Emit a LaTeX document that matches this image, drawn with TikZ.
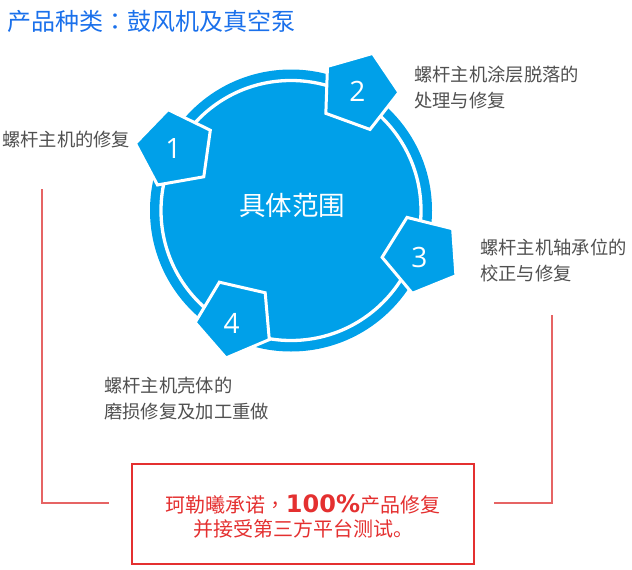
\documentclass[tikz,border=0pt]{standalone}
\usepackage{fontspec}
\setmainfont{Noto Sans CJK SC}
\newfontfamily\tcfont{Noto Sans CJK TC}
\newfontfamily\numfont{Open Sans}
\newfontfamily\boldnum{DejaVu Sans}
\usetikzlibrary{shapes.geometric}
\definecolor{cblue}{RGB}{0,160,233}
\definecolor{tblue}{RGB}{26,112,235}
\definecolor{tgray}{RGB}{80,80,80}
\definecolor{bred}{RGB}{228,48,48}
\definecolor{lred}{RGB}{230,100,100}
\begin{document}
\begin{tikzpicture}[x=1pt,y=-1pt,
  pent/.style={regular polygon, regular polygon sides=5, minimum size=80pt, inner sep=0pt, outer sep=0pt, fill=cblue, draw=white, line width=3pt},
  num/.style={text=white, inner sep=0pt, font=\numfont\fontsize{28}{28}\selectfont},
  desc/.style={text=tgray, font=\fontsize{18.3}{26}\selectfont, align=left, anchor=west, inner sep=0pt},
  link/.style={draw=lred, line width=1.6pt}]
\useasboundingbox (0,0) rectangle (632,570);
% title
\node[anchor=west, inner sep=0pt, text=tblue, font=\fontsize{24}{24}\selectfont] (title) at (7,21) {产品种类{\tcfont ：}鼓风机及真空泵};
% central circle
\node[circle, fill=cblue, minimum size=282pt, inner sep=0pt] (disc) at (291,210.5) {};
\node[circle, draw=white, line width=3.3pt, minimum size=260pt, inner sep=0pt] (ring) at (291,210.5) {};
\node[text=white, inner sep=0pt, font=\fontsize{26.5}{26.5}\selectfont] (center) at (292,205) {具体范围};
% pentagons
\node[pent, rotate=10] (p1) at (175,149) {};
\node[pent, rotate=-20] (p2) at (359,91) {};
\node[pent, rotate=22] (p3) at (422,254.5) {};
\node[pent, rotate=23] (p4) at (235,319) {};
\node[num] (n1) at (173.3,148.3) {1};
\node[num] (n2) at (357.3,91.7) {2};
\node[num] (n3) at (419.3,257.3) {3};
\node[num] (n4) at (231.7,323.3) {4};
% descriptions
\node[desc] (t1) at (2,140) {螺杆主机的修复};
\node[desc] (t2) at (414,87.5) {螺杆主机涂层脱落的\\处理与修复};
\node[desc] (t3) at (480,260) {螺杆主机轴承位的\\校正与修复};
\node[desc] (t4) at (104,398.5) {螺杆主机壳体的\\磨损修复及加工重做};
% promise box
\node[draw=bred, line width=1.3pt, minimum width=342pt, minimum height=100pt, inner sep=0pt] (box) at (303,514) {};
\node[text=bred, align=center, inner sep=0pt, font=\fontsize{20}{23.5}\selectfont] (promise) at (303,516.5)
  {珂勒曦承诺{\tcfont ，}{\boldnum\bfseries\fontsize{24}{24}\selectfont 100\%}产品修复\\并接受第三方平台测试。};
% connectors
\coordinate (ls) at (42,189);
\coordinate (le) at (109,503);
\coordinate (rs) at (552,315);
\coordinate (re) at (494,503);
\draw[link] (ls) |- (le);
\draw[link] (rs) |- (re);
\end{tikzpicture}
\end{document}
